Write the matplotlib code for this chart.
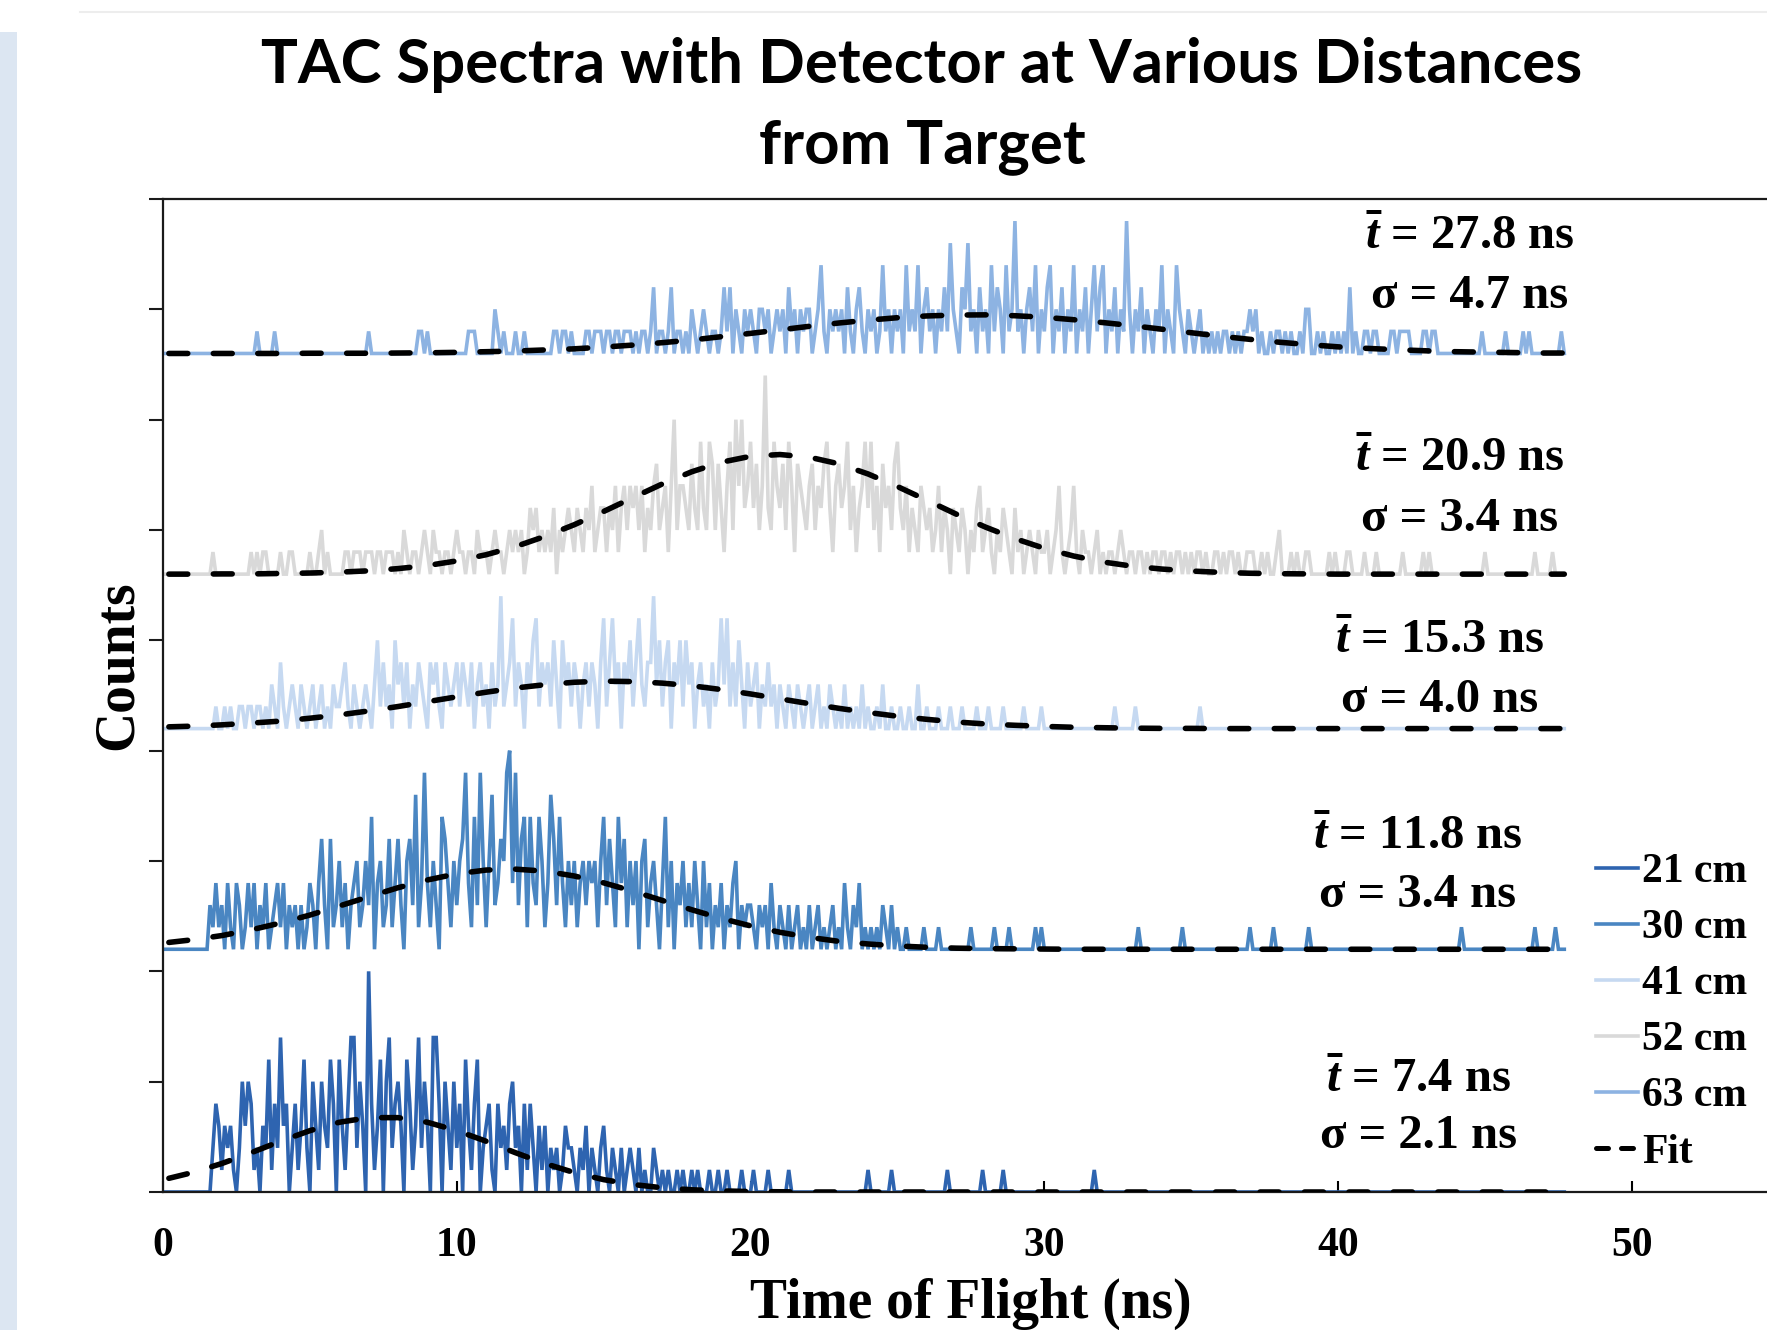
import numpy as np
import matplotlib
matplotlib.use("Agg")
import matplotlib.pyplot as plt
from matplotlib.patches import Rectangle
from matplotlib.lines import Line2D

# ---------------- data ----------------
labels = ["21 cm", "30 cm", "41 cm", "52 cm", "63 cm"]
offsets = [0, 11, 21, 28, 38]          # vertical stacking offsets (counts)
mean_t = [7.4, 11.8, 15.3, 20.9, 27.8]  # ns
sigma_t = [2.1, 3.4, 4.0, 3.4, 4.7]     # ns
bin_width = 0.1                         # ns per channel

counts_21 = [
    0,0,0,0,0,0,0,0,0,0, 0,0,0,0,0,0,0,2,4,3,
    1,3,2,3,1,0,2,5,3,5, 4,1,2,0,3,2,6,1,4,2,
    7,3,4,0,2,4,1,3,6,2, 0,5,3,1,5,3,2,6,4,0,
    6,3,1,4,7,7,2,5,3,0, 10,4,1,3,6,0,5,7,2,4,
    5,3,0,6,4,1,3,7,2,5, 3,0,7,7,4,0,5,3,1,5,
    2,4,0,6,3,1,4,6,0,2, 3,4,1,0,4,2,3,1,4,5,
    2,3,0,4,1,4,2,0,3,1, 3,0,2,1,2,0,1,3,2,2,
    1,0,2,1,3,0,2,1,0,2, 3,1,0,2,1,0,2,0,1,2,
    1,0,2,0,1,0,0,2,1,0, 1,0,1,0,0,1,0,1,0,0,
    1,0,1,0,0,0,1,0,0,1, 0,0,1,0,0,0,0,1,0,0,
    0,1,0,0,0,0,1,0,0,0, 0,0,0,1,0,0,0,0,0,0,
    0,0,0,0,0,0,0,0,0,0, 0,0,0,0,0,0,0,0,0,0,
    1,0,0,0,0,0,0,0,1,0, 0,0,0,0,0,0,0,0,0,0,
    0,0,0,0,0,0,0,1,0,0, 0,0,0,0,0,0,0,0,0,1,
    0,0,0,0,0,0,1,0,0,0, 0,0,0,0,0,0,0,0,0,0,
    0,0,0,0,0,0,0,0,0,0, 0,0,0,0,0,0,0,1,0,0,
    0,0,0,0,0,0,0,0,0,0, 0,0,0,0,0,0,0,0,0,0,
    0,0,0,0,0,0,0,0,0,0, 0,0,0,0,0,0,0,0,0,0,
    0,0,0,0,0,0,0,0,0,0, 0,0,0,0,0,0,0,0,0,0,
    0,0,0,0,0,0,0,0,0,0, 0,0,0,0,0,0,0,0,0,0,
    0,0,0,0,0,0,0,0,0,0, 0,0,0,0,0,0,0,0,0,0,
    0,0,0,0,0,0,0,0,0,0, 0,0,0,0,0,0,0,0,0,0,
    0,0,0,0,0,0,0,0,0,0, 0,0,0,0,0,0,0,0,0,0,
    0,0,0,0,0,0,0,0,0,0, 0,0,0,0,0,0,0,0,
]

counts_30 = [
    0,0,0,0,0,0,0,0,0,0, 0,0,0,0,0,0,2,1,3,1,
    2,0,3,1,0,3,2,0,1,3, 1,3,0,2,1,3,0,1,2,3,
    1,3,0,2,1,2,0,2,0,1, 3,2,0,3,5,2,0,5,1,2,
    4,1,3,0,2,3,4,1,2,4, 2,6,0,3,4,1,2,5,1,3,
    5,2,0,4,5,2,7,1,3,8, 3,1,4,2,0,6,5,3,1,4,
    2,4,5,8,3,1,6,2,8,4, 1,4,7,2,3,5,4,8,9,3,
    8,2,5,6,1,6,3,2,6,4, 1,3,7,5,2,6,3,1,4,2,
    4,1,3,4,2,4,3,4,1,4, 6,2,5,3,1,6,3,5,1,4,
    2,4,0,4,5,1,3,4,2,0, 3,6,1,4,0,3,2,4,1,3,
    1,4,2,0,4,1,3,0,2,1, 3,0,2,1,3,4,0,2,1,2,
    2,1,0,2,1,2,0,3,1,0, 2,1,0,2,0,1,2,0,1,0,
    2,0,1,2,0,1,0,1,2,0, 1,0,3,1,0,2,1,3,0,1,
    0,1,0,1,0,2,1,0,2,0, 1,0,0,1,0,0,0,0,0,1,
    0,0,0,0,1,0,0,0,0,0, 0,0,0,0,0,1,0,0,0,0,
    0,0,0,1,0,0,0,0,1,0, 0,0,0,0,0,0,0,1,0,1,
    0,0,0,0,0,0,0,0,0,0, 0,0,0,0,0,0,0,0,0,0,
    0,0,0,0,0,0,0,0,0,0, 0,0,1,0,0,0,0,0,0,0,
    0,0,0,0,0,0,0,1,0,0, 0,0,0,0,0,0,0,0,0,0,
    0,0,0,0,0,0,0,0,0,0, 1,0,0,0,0,0,0,0,1,0,
    0,0,0,0,0,0,0,0,0,0, 1,0,0,0,0,0,0,0,0,0,
    0,0,0,0,0,0,0,0,0,0, 0,0,0,0,0,0,0,0,0,0,
    0,0,0,0,0,0,0,0,0,0, 0,0,0,0,0,0,0,0,0,0,
    0,0,1,0,0,0,0,0,0,0, 0,0,0,0,0,0,0,0,0,0,
    0,0,0,0,0,0,0,1,0,0, 0,0,0,0,1,0,0,0,
]

counts_41 = [
    0,0,0,0,0,0,0,0,0,0, 0,0,0,0,0,0,0,0,1,0,
    0,1,0,1,0,0,1,1,0,1, 1,0,1,1,0,1,0,2,1,0,
    3,1,0,1,2,1,0,2,1,0, 1,2,0,1,2,0,1,0,2,1,
    1,2,3,1,0,2,1,0,1,2, 1,0,2,4,1,3,1,2,0,4,
    2,3,1,3,0,2,1,3,2,1, 0,3,2,3,1,0,3,2,1,2,
    3,1,3,2,1,3,0,2,3,1, 2,0,3,1,2,6,1,2,3,5,
    1,3,2,0,3,2,4,5,1,3, 2,3,1,4,2,0,4,2,3,1,
    3,2,0,2,3,1,3,2,0,3, 5,1,3,5,2,3,0,3,2,4,
    1,3,5,2,1,3,3,6,2,4, 1,3,4,0,3,2,4,1,4,2,
    3,0,2,3,1,2,0,3,1,2, 5,2,5,1,3,1,4,2,0,3,
    1,2,3,0,2,1,3,1,2,0, 2,1,0,2,1,0,2,1,0,1,
    2,0,1,2,0,1,0,2,1,0, 1,0,2,0,1,0,1,0,2,0,
    1,0,0,1,0,2,0,0,1,0, 0,1,0,0,1,0,0,2,0,0,
    1,0,0,0,1,0,0,0,1,0, 0,0,1,0,0,0,0,1,0,0,
    0,1,0,0,0,0,1,0,0,0, 0,0,0,1,0,0,0,0,0,1,
    0,0,0,0,0,0,0,0,0,0, 0,0,0,0,0,0,0,0,0,0,
    0,0,0,0,1,0,0,0,0,0, 0,1,0,0,0,0,0,0,0,0,
    0,0,0,0,0,0,0,0,0,0, 0,0,0,1,0,0,0,0,0,0,
    0,0,0,0,0,0,0,0,0,0, 0,0,0,0,0,0,0,0,0,0,
    0,0,0,0,0,0,0,0,0,0, 0,0,0,0,0,0,0,0,0,0,
    0,0,0,0,0,0,0,0,0,0, 0,0,0,0,0,0,0,0,0,0,
    0,0,0,0,0,0,0,0,0,0, 0,0,0,0,0,0,0,0,0,0,
    0,0,0,0,0,0,0,0,0,0, 0,0,0,0,0,0,0,0,0,0,
    0,0,0,0,0,0,0,0,0,0, 0,0,0,0,0,0,0,0,
]

counts_52 = [
    0,0,0,0,0,0,0,0,0,0, 0,0,0,0,0,0,0,1,0,0,
    0,0,0,0,0,0,0,0,0,0, 1,0,1,0,1,1,0,0,0,0,
    1,0,0,1,1,0,0,0,0,0, 1,0,0,1,2,0,1,0,0,0,
    0,0,1,1,0,1,1,1,0,1, 1,1,0,1,1,0,1,1,1,0,
    1,0,2,1,0,1,1,0,1,2, 1,0,2,1,1,0,1,1,0,1,
    2,1,1,0,1,1,0,2,1,1, 1,0,1,2,1,1,0,1,2,1,
    2,1,2,0,1,3,2,3,1,2, 1,2,1,3,0,2,1,2,3,2,
    1,3,2,1,3,2,4,1,2,3, 3,1,3,2,4,1,3,4,2,4,
    3,4,2,4,1,3,2,4,5,2, 3,4,1,4,7,2,4,4,3,2,
    5,3,2,6,3,2,6,5,2,5, 3,1,4,6,2,7,4,7,3,4,
    6,3,5,2,4,9,3,2,6,4, 3,5,2,6,4,1,5,4,3,2,
    4,5,2,4,3,5,6,3,1,4, 5,3,4,6,2,4,1,3,4,6,
    3,6,2,4,1,5,3,4,2,5, 6,3,2,4,1,3,2,1,4,3,
    2,3,1,2,4,1,3,2,0,3, 2,1,3,2,0,2,1,3,4,1,
    2,3,1,0,2,1,3,2,1,0, 3,1,2,0,1,2,1,0,2,1,
    1,2,0,1,2,4,1,0,1,2, 4,1,0,2,1,1,0,1,2,0,
    1,0,1,1,0,1,2,1,0,1, 1,0,1,1,0,1,0,1,1,0,
    1,1,0,1,0,1,1,0,1,0, 1,0,1,1,0,1,0,0,1,1,
    0,1,0,1,1,0,1,0,0,1, 1,1,0,0,1,0,1,0,0,1,
    2,0,0,0,1,0,1,0,0,1, 1,0,0,0,0,0,0,1,0,1,
    0,0,0,1,1,0,0,0,0,1, 0,0,0,1,0,0,0,0,0,0,
    0,0,1,0,0,0,0,0,0,1, 0,1,0,0,0,0,0,0,0,0,
    0,0,0,0,0,0,0,0,0,0, 1,0,0,0,0,0,0,0,0,0,
    0,0,0,0,0,0,0,1,0,0, 0,0,0,1,0,0,0,0,
]

counts_63 = [
    0,0,0,0,0,0,0,0,0,0, 0,0,0,0,0,0,0,0,0,0,
    0,0,0,0,0,0,0,0,0,0, 0,0,1,0,0,0,0,0,1,0,
    0,0,0,0,0,0,0,0,0,0, 0,0,0,0,0,0,0,0,0,0,
    0,0,0,0,0,0,0,0,0,0, 1,0,0,0,0,0,0,0,0,0,
    0,0,0,0,0,0,0,1,1,0, 1,0,0,0,0,0,0,0,0,0,
    0,0,0,0,1,1,1,0,0,0, 0,0,0,2,1,0,1,0,0,0,
    1,0,0,1,0,0,0,0,0,0, 0,0,0,1,1,0,1,1,0,1,
    0,0,0,0,1,1,0,1,1,1, 0,1,1,0,1,1,0,1,1,1,
    0,1,0,1,1,0,1,3,0,1, 1,0,1,3,0,1,1,0,1,0,
    2,1,0,1,2,1,0,1,1,0, 1,3,1,3,0,2,1,0,2,1,
    2,1,0,2,2,1,2,0,1,2, 1,2,0,3,1,2,0,2,1,2,
    2,0,1,2,4,1,0,2,1,2, 1,2,0,3,1,0,2,3,1,0,
    2,1,2,0,1,4,1,2,0,2, 1,2,0,4,1,2,1,4,0,2,
    3,1,2,0,2,1,3,1,5,2, 1,0,3,2,5,1,2,0,3,1,
    2,0,4,1,3,2,0,4,1,2, 6,1,2,0,2,3,1,4,0,2,
    1,3,4,0,2,1,3,0,2,1, 4,0,2,1,3,0,2,4,1,3,
    4,0,2,1,3,0,2,1,6,2, 0,2,1,3,0,2,1,0,2,1,
    4,0,2,1,0,4,2,1,0,2, 1,0,1,2,0,1,0,1,0,1,
    0,1,1,0,1,0,1,0,1,1, 2,1,2,0,1,0,0,1,0,1,
    1,0,1,0,1,0,0,1,0,2, 2,0,0,1,0,1,0,0,1,0,
    1,0,1,0,3,0,1,0,0,1, 1,0,1,1,0,0,0,0,1,1,
    0,1,1,1,1,0,0,0,0,1, 1,0,1,1,0,0,0,0,0,0,
    0,0,0,0,0,0,0,0,0,1, 0,0,0,0,0,0,0,1,0,0,
    0,0,0,1,0,1,0,0,0,0, 0,0,0,0,0,0,1,0,
]

# Gaussian fit curves (counts above each baseline)
fit_t = [0.2, 1, 2, 3, 4, 5, 6, 7, 8, 9, 10, 11, 12, 13, 14, 15, 16, 17, 18, 19,
         20, 21, 22, 23, 24, 25, 26, 27, 28, 29, 30, 31, 32, 33, 34, 35, 36, 37,
         38, 39, 40, 41, 42, 43, 44, 45, 46, 47, 47.7]
fit_21 = [0.62, 0.88, 1.29, 1.78, 2.30, 2.78, 3.16, 3.37, 3.37, 3.16, 2.78, 2.30,
          1.78, 1.29, 0.88, 0.56, 0.34, 0.19, 0.10, 0.05, 0.02, 0.01, 0, 0, 0, 0,
          0, 0, 0, 0, 0, 0, 0, 0, 0, 0, 0, 0, 0, 0, 0, 0, 0, 0, 0, 0, 0, 0, 0]
fit_30 = [0.31, 0.43, 0.62, 0.88, 1.19, 1.55, 1.96, 2.38, 2.79, 3.14, 3.42, 3.59,
          3.63, 3.54, 3.32, 3.01, 2.63, 2.21, 1.79, 1.40, 1.06, 0.77, 0.54, 0.36,
          0.24, 0.15, 0.09, 0.05, 0.03, 0.02, 0.01, 0, 0, 0, 0, 0, 0, 0, 0, 0, 0,
          0, 0, 0, 0, 0, 0, 0, 0]
fit_41 = [0.08, 0.11, 0.17, 0.25, 0.34, 0.47, 0.62, 0.80, 1.00, 1.22, 1.44, 1.65,
          1.84, 1.99, 2.10, 2.15, 2.13, 2.06, 1.94, 1.77, 1.57, 1.35, 1.13, 0.92,
          0.73, 0.56, 0.42, 0.30, 0.21, 0.15, 0.10, 0.06, 0.04, 0.02, 0.01, 0.01,
          0, 0, 0, 0, 0, 0, 0, 0, 0, 0, 0, 0, 0]
fit_52 = [0, 0, 0.01, 0.01, 0.03, 0.05, 0.09, 0.15, 0.25, 0.39, 0.60, 0.88, 1.25,
          1.71, 2.24, 2.84, 3.47, 4.09, 4.64, 5.07, 5.34, 5.42, 5.30, 5.00, 4.54,
          3.97, 3.35, 2.72, 2.13, 1.61, 1.17, 0.82, 0.55, 0.36, 0.23, 0.14, 0.08,
          0.04, 0.02, 0.01, 0, 0, 0, 0, 0, 0, 0, 0, 0]
fit_63 = [0, 0, 0, 0, 0, 0.01, 0.01, 0.01, 0.02, 0.03, 0.05, 0.08, 0.11, 0.16,
          0.21, 0.29, 0.38, 0.49, 0.61, 0.76, 0.91, 1.07, 1.23, 1.38, 1.51, 1.62,
          1.70, 1.74, 1.75, 1.71, 1.64, 1.53, 1.40, 1.26, 1.10, 0.94, 0.78, 0.64,
          0.51, 0.40, 0.30, 0.23, 0.17, 0.12, 0.08, 0.06, 0.04, 0.02, 0.02]

x_ticks = [0, 10, 20, 30, 40, 50]
y_ticks = [0, 5, 10, 15, 20, 25, 30, 35, 40, 45]

all_counts = [counts_21, counts_30, counts_41, counts_52, counts_63]
all_fits = [fit_21, fit_30, fit_41, fit_52, fit_63]

# ---------------- style ----------------
colors = ["#2E64B0", "#4A86C2", "#C6D9F1", "#D9D9D9", "#8DB3E2"]
SERIF = "Liberation Serif"
plt.rcParams["font.family"] = [SERIF, "DejaVu Serif"]
plt.rcParams["mathtext.fontset"] = "custom"
plt.rcParams["mathtext.rm"] = "Liberation Serif:bold"
plt.rcParams["mathtext.it"] = "Liberation Serif:italic:bold"
plt.rcParams["mathtext.bf"] = "Liberation Serif:bold"

W, H = 1767, 1330
fig = plt.figure(figsize=(W / 100, H / 100), dpi=100)

# decorative left strip and faint top line
fig.patches.append(Rectangle((0, 0), 17 / W, 1 - 32 / H, transform=fig.transFigure,
                             facecolor="#DCE6F2", edgecolor="none", zorder=0))
fig.lines.append(Line2D([80 / W, 1], [1 - 12 / H, 1 - 12 / H], transform=fig.transFigure,
                        color="#EDEDED", lw=1.5))

ax_l, ax_r, ax_t, ax_b = 163, 1767, 199, 1192
ax = fig.add_axes([ax_l / W, 1 - ax_b / H, (ax_r - ax_l) / W, (ax_b - ax_t) / H])
ax.set_xlim(0, 54.6)
ax.set_ylim(0, 45)

DATA_LW = 2.6
fit_style = dict(color="black", lw=4.0, linestyle=(0, (3.4, 4.6)),
                 dash_capstyle="round", zorder=4)

for cnt, off, col in zip(all_counts, offsets, colors):
    t = np.arange(len(cnt)) * bin_width
    ax.plot(t, np.asarray(cnt) + off, color=col, lw=DATA_LW, zorder=2,
            solid_joinstyle="miter")

for fit, off in zip(all_fits, offsets):
    ax.plot(fit_t, np.asarray(fit) + off, **fit_style)

# spines and ticks
for s in ["left", "bottom", "top"]:
    ax.spines[s].set_linewidth(1.6)
    ax.spines[s].set_color("#1a1a1a")
ax.spines["right"].set_visible(False)
ax.set_yticks(y_ticks)
ax.set_yticklabels([])
ax.tick_params(axis="y", direction="out", length=10, width=1.5, color="#1a1a1a")
ax.set_xticks(x_ticks)
ax.set_xticklabels([str(v) for v in x_ticks])
ax.tick_params(axis="x", direction="in", length=8, width=1.5, pad=25, labelsize=30)
for lbl in ax.get_xticklabels():
    lbl.set_fontweight("bold")
    lbl.set_family(SERIF)

ax.set_xlabel("Time of Flight (ns)", fontsize=40, fontweight="bold", family=SERIF,
              va="baseline")
ax.xaxis.set_label_coords(0.5037, -0.127)
ax.set_ylabel("Counts", fontsize=40, fontweight="bold", family=SERIF, va="center")
ax.yaxis.set_label_coords(-0.0285, 0.531)

# annotations (positions in data coordinates)
ann_pos = [(42.73, 5.06, 2.53), (42.70, 16.09, 13.46), (43.45, 24.95, 22.28),
           (44.13, 33.20, 30.50), (44.47, 43.29, 40.62)]
for (xp, y1, y2), m, s in zip(ann_pos, mean_t, sigma_t):
    ax.text(xp, y1, r"$\bar{t}$" + f" = {m:.1f} ns", ha="center", va="center",
            fontsize=35, fontweight="bold", family=SERIF, zorder=6)
    ax.text(xp, y2, f"σ = {s:.1f} ns", ha="center", va="center",
            fontsize=35, fontweight="bold", family=SERIF, zorder=6)

# legend
handles = [Line2D([], [], color=c, lw=DATA_LW) for c in colors]
handles.append(Line2D([], [], color="black", lw=3.6, linestyle=(0, (2.4, 2.6)),
                      dash_capstyle="round"))
leg = ax.legend(handles, labels + ["Fit"], loc="upper left",
                bbox_to_anchor=(1596 / W, 1 - 853 / H), bbox_transform=fig.transFigure,
                frameon=False, prop={"family": SERIF, "weight": "bold", "size": 30},
                handlelength=1.0, handletextpad=0.1, labelspacing=0.43,
                borderpad=0, borderaxespad=0)

# title (two lines, Calibri-like sans)
title_lines = ["TAC Spectra with Detector at Various Distances", "from Target"]
t1 = fig.text(922 / W, 1 - 65 / H, title_lines[0], ha="center", va="center",
              fontsize=44, fontweight="bold", family=["Lato", "DejaVu Sans"])
t2 = fig.text(922 / W, 1 - 147 / H, title_lines[1], ha="center", va="center",
              fontsize=44, fontweight="bold", family=["Lato", "DejaVu Sans"])
fig.canvas.draw()
bb = t1.get_window_extent()
scale = 1322 / bb.width
t1.set_fontsize(44 * scale)
t2.set_fontsize(44 * scale)

fig.savefig("out.png", dpi=100)
